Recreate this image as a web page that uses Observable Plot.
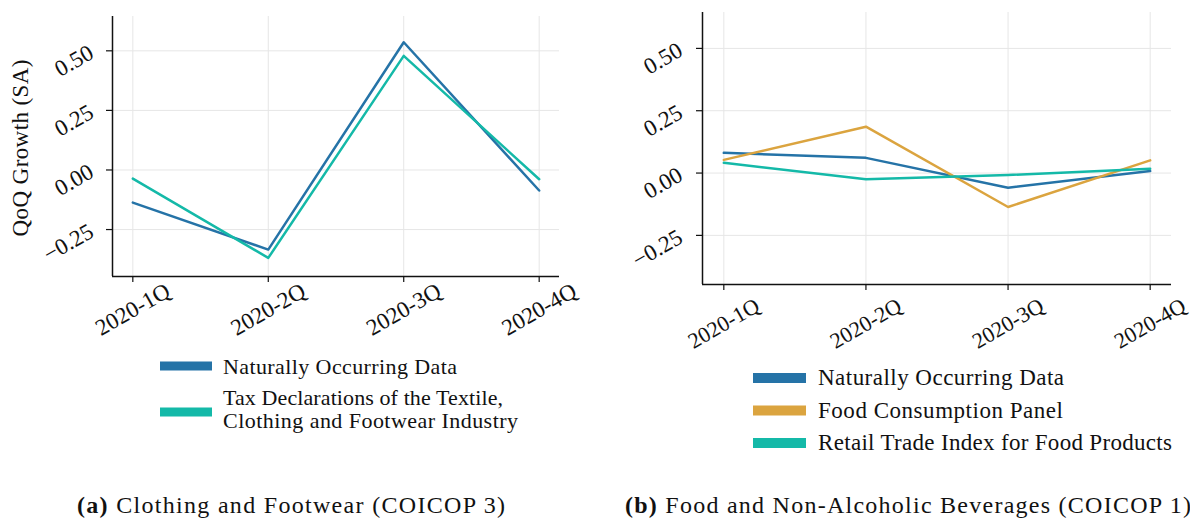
<!DOCTYPE html>
<html>
<head>
<meta charset="utf-8">
<script src="https://cdn.jsdelivr.net/npm/d3@7"></script>
<script src="https://cdn.jsdelivr.net/npm/@observablehq/plot@0.6"></script>
<style>
  html, body { margin: 0; padding: 0; background: #fff; }
  #wrap { position: relative; width: 1190px; height: 518px; overflow: hidden; background: #fff; }
  #wrap > svg { position: absolute; top: 0; }
  #overlay { position: absolute; left: 0; top: 0; pointer-events: none; }
</style>
</head>
<body>
<div id="wrap"></div>
<script>
const quarters = ["2020-1Q", "2020-2Q", "2020-3Q", "2020-4Q"];

// Panel (a): Clothing and Footwear
const clothNatural = [-0.137, -0.334, 0.536, -0.086];
const clothTax = [-0.036, -0.369, 0.479, -0.039];
const clothSeries = ["Naturally Occurring Data", "Tax Declarations of the Textile, Clothing and Footwear Industry"];

// Panel (b): Food and Non-Alcoholic Beverages
const foodNatural = [0.081, 0.061, -0.059, 0.008];
const foodPanel = [0.053, 0.186, -0.136, 0.051];
const foodRetail = [0.041, -0.025, -0.008, 0.017];
const foodSeries = ["Naturally Occurring Data", "Food Consumption Panel", "Retail Trade Index for Food Products"];

const yTicks = [-0.25, 0, 0.25, 0.5];
const yDomain = [-0.447, 0.644];
const xDomain = [-0.15, 3.15];

const BLUE = "#2573a7", ORANGE = "#dba43f", TEAL = "#14b9a8";

function rows(names, arrays) {
  const out = [];
  names.forEach((n, s) => arrays[s].forEach((v, i) => out.push({series: n, i, v})));
  return out;
}

function panel({data, names, colors, width, height, margins, fontSize, xFont, xPad, yPad}) {
  return Plot.plot({
    width, height,
    marginLeft: margins[0], marginRight: margins[1], marginTop: margins[2], marginBottom: margins[3],
    style: {fontFamily: "'Liberation Serif', serif", fontSize: fontSize + "px", background: "transparent", color: "#111"},
    x: {domain: xDomain, ticks: [0, 1, 2, 3], label: null},
    y: {domain: yDomain, ticks: yTicks, label: null},
    color: {domain: names, range: colors},
    marks: [
      Plot.gridX([0, 1, 2, 3], {stroke: "#e6e6e6", strokeOpacity: 1, strokeWidth: 1}),
      Plot.gridY(yTicks, {stroke: "#e6e6e6", strokeOpacity: 1, strokeWidth: 1}),
      Plot.line(data, {x: "i", y: "v", z: "series", stroke: "series", strokeWidth: 2.5}),
      Plot.ruleX([xDomain[0]], {stroke: "#111", strokeWidth: 1.5}),
      Plot.ruleY([yDomain[0]], {stroke: "#111", strokeWidth: 1.5}),
      Plot.axisX([0, 1, 2, 3], {tickSize: 6, tickRotate: -30, tickPadding: xPad, textAnchor: "middle", lineAnchor: "middle",
        fontSize: xFont, tickFormat: i => quarters[i], label: null, strokeWidth: 1.2, stroke: "#111", fill: "#111"}),
      Plot.axisY(yTicks, {tickSize: 6, tickRotate: -30, tickPadding: yPad,
        tickFormat: d => d.toFixed(2).replace("-", "\u2212"), label: null, strokeWidth: 1.2, stroke: "#111", fill: "#111"})
    ]
  });
}

const wrap = document.getElementById("wrap");

const left = panel({
  data: rows(clothSeries, [clothNatural, clothTax]),
  names: clothSeries, colors: [BLUE, TEAL],
  width: 595, height: 400, margins: [112, 36, 16, 124], fontSize: 23, xFont: 23, xPad: 27, yPad: 15
});
left.style.left = "0px";
wrap.appendChild(left);

const right = panel({
  data: rows(foodSeries, [foodNatural, foodPanel, foodRetail]),
  names: foodSeries, colors: [BLUE, ORANGE, TEAL],
  width: 595, height: 400, margins: [107, 19, 12, 116], fontSize: 23, xFont: 22, xPad: 33, yPad: 16
});
right.style.left = "595px";
wrap.appendChild(right);

// Overlay: y label, legends, captions
const ov = d3.select(wrap).append("svg").attr("id", "overlay")
  .attr("width", 1190).attr("height", 518)
  .style("font-family", "'Liberation Serif', serif").style("fill", "#111");

ov.append("text").attr("transform", "translate(28,148) rotate(-90)")
  .attr("text-anchor", "middle").attr("font-size", 23)
  .attr("textLength", 177).attr("lengthAdjust", "spacing").text("QoQ Growth (SA)");

// Left legend
const legL = [
  {color: BLUE, cy: 366, lines: [{t: "Naturally Occurring Data", y: 374, w: 234}]},
  {color: TEAL, cy: 412, lines: [{t: "Tax Declarations of the Textile,", y: 405, w: 280}, {t: "Clothing and Footwear Industry", y: 428, w: 295}]}
];
legL.forEach(e => {
  ov.append("rect").attr("x", 160).attr("y", e.cy - 4.5).attr("width", 52).attr("height", 9).attr("fill", e.color);
  e.lines.forEach(l => ov.append("text").attr("x", 223).attr("y", l.y).attr("font-size", 22)
    .attr("textLength", l.w).attr("lengthAdjust", "spacing").text(l.t));
});

// Right legend
const legR = [
  {color: BLUE, cy: 378, t: foodSeries[0], y: 385, w: 246},
  {color: ORANGE, cy: 410.5, t: foodSeries[1], y: 418, w: 245},
  {color: TEAL, cy: 443, t: foodSeries[2], y: 450, w: 354}
];
legR.forEach(e => {
  ov.append("rect").attr("x", 753).attr("y", e.cy - 5).attr("width", 53).attr("height", 10).attr("fill", e.color);
  ov.append("text").attr("x", 818).attr("y", e.y).attr("font-size", 23)
    .attr("textLength", e.w).attr("lengthAdjust", "spacing").text(e.t);
});

// Captions
const capA = ov.append("text").attr("x", 77).attr("y", 513).attr("font-size", 24)
  .attr("textLength", 428).attr("lengthAdjust", "spacing");
capA.append("tspan").attr("font-weight", "bold").text("(a)");
capA.append("tspan").text(" Clothing and Footwear (COICOP 3)");

const capB = ov.append("text").attr("x", 625).attr("y", 513).attr("font-size", 24)
  .attr("textLength", 566).attr("lengthAdjust", "spacing");
capB.append("tspan").attr("font-weight", "bold").text("(b)");
capB.append("tspan").text(" Food and Non-Alcoholic Beverages (COICOP 1)");
</script>
</body>
</html>
